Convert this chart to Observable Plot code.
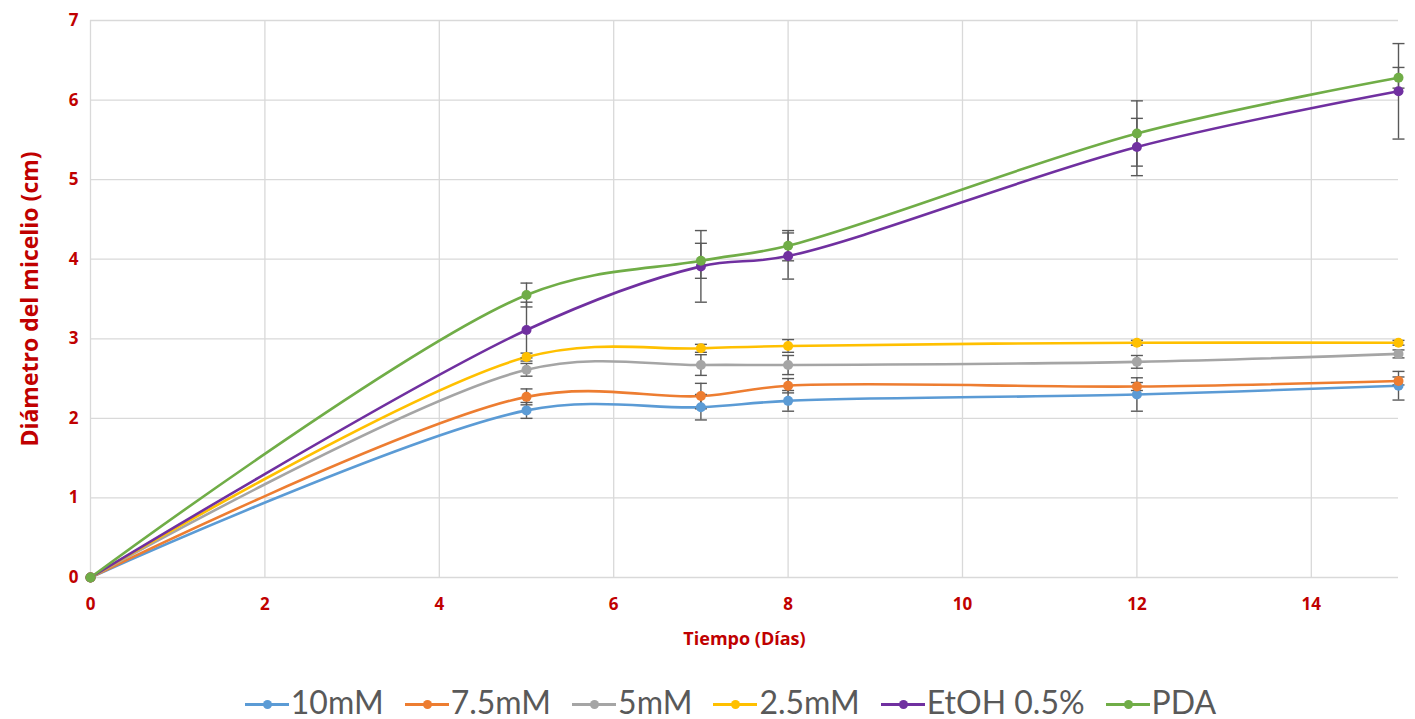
<!DOCTYPE html>
<html>
<head>
<meta charset="utf-8">
<script src="https://cdn.jsdelivr.net/npm/d3@7"></script>
<script src="https://cdn.jsdelivr.net/npm/@observablehq/plot@0.6"></script>
<style>
  html, body { margin: 0; padding: 0; background: #fff; }
  body { position: relative; width: 1415px; height: 719px; overflow: hidden; }
  #chart { width: 1415px; }
  #legend { position: absolute; left: 0; top: 686px; width: 1369px; padding-left: 46px;
    display: flex; justify-content: center; align-items: center; gap: 21px;
    font-family: Lato, "Open Sans", sans-serif; font-size: 32px; line-height: 32px; color: #595959;
    height: 32px; }
  .item { display: flex; align-items: center; gap: 2px; }
  .sw { position: relative; width: 44px; height: 3px; margin-top: 4px; }
  .sw i { position: absolute; left: 18px; top: -3px; width: 9px; height: 9px; border-radius: 50%; }
</style>
</head>
<body>
<div id="chart"></div>
<div id="legend"></div>
<script>
const days = [0, 5, 7, 8, 12, 15];
const seriesNames = ["10mM", "7.5mM", "5mM", "2.5mM", "EtOH 0.5%", "PDA"];
const seriesColors = ["#5B9BD5", "#ED7D31", "#A5A5A5", "#FFC000", "#7030A0", "#70AD47"];

const v10mM   = [0, 2.10, 2.14, 2.22, 2.30, 2.41];
const v7_5mM  = [0, 2.27, 2.28, 2.41, 2.40, 2.47];
const v5mM    = [0, 2.61, 2.67, 2.67, 2.71, 2.81];
const v2_5mM  = [0, 2.77, 2.88, 2.91, 2.95, 2.95];
const vEtOH   = [0, 3.11, 3.91, 4.04, 5.41, 6.11];
const vPDA    = [0, 3.55, 3.98, 4.17, 5.58, 6.28];

const sd10mM  = [0, 0.10, 0.16, 0.13, 0.21, 0.18];
const sd7_5mM = [0, 0.10, 0.16, 0.09, 0.05, 0.05];
const sd5mM   = [0, 0.08, 0.13, 0.12, 0.08, 0.05];
const sd2_5mM = [0, 0.05, 0.05, 0.08, 0.03, 0.03];
const sdEtOH  = [0, 0.35, 0.45, 0.29, 0.36, 0.60];
const sdPDA   = [0, 0.15, 0.22, 0.19, 0.41, 0.13];

const yTicks = [0, 1, 2, 3, 4, 5, 6, 7];
const xTicks = [0, 2, 4, 6, 8, 10, 12, 14];

const values = [v10mM, v7_5mM, v5mM, v2_5mM, vEtOH, vPDA];
const sds = [sd10mM, sd7_5mM, sd5mM, sd2_5mM, sdEtOH, sdPDA];

const rows = [];
seriesNames.forEach((s, i) => {
  days.forEach((d, j) => rows.push({series: s, day: d, v: values[i][j], sd: sds[i][j]}));
});
const errRows = rows.filter(d => d.sd > 0);

const capSymbol = {
  draw(context, size) {
    const r = Math.sqrt(size / Math.PI);
    context.moveTo(-r, 0);
    context.lineTo(r, 0);
  }
};

const red = "#C00000";
const axisFont = "'Open Sans', Lato, sans-serif";

const chart = Plot.plot({
  width: 1415,
  height: 680,
  marginTop: 20,
  marginBottom: 103,
  marginLeft: 90,
  marginRight: 17,
  style: { fontFamily: axisFont, background: "#fff" },
  x: { domain: [0, 15], ticks: xTicks },
  y: { domain: [0, 7], ticks: yTicks },
  color: { domain: seriesNames, range: seriesColors },
  marks: [
    Plot.gridY(yTicks, { stroke: "#d9d9d9", strokeOpacity: 1, strokeWidth: 1.3 }),
    Plot.gridX(xTicks, { stroke: "#d9d9d9", strokeOpacity: 1, strokeWidth: 1.3 }),
    Plot.axisY(yTicks, { tickSize: 0, tickPadding: 12, tickFormat: d => String(d), fontSize: 17, fontWeight: "bold", fill: red, label: null }),
    Plot.axisX(xTicks, { tickSize: 0, tickPadding: 20, tickFormat: d => String(d), fontSize: 17, fontWeight: "bold", fill: red, label: null }),
    Plot.text(["Diámetro del micelio (cm)"], { frameAnchor: "left", textAnchor: "middle", rotate: -90, dx: -60, fontSize: 23, fontWeight: "bold", fill: red }),
    Plot.text(["Tiempo (Días)"], { frameAnchor: "bottom", textAnchor: "middle", dy: 67, fontSize: 18, fontWeight: "bold", fill: red }),
    Plot.line(rows, { x: "day", y: "v", z: "series", stroke: "series", curve: "catmull-rom", strokeWidth: 2.6 }),
    Plot.ruleX(errRows, { x: "day", y1: d => d.v - d.sd, y2: d => d.v + d.sd, stroke: "#595959", strokeWidth: 1.4 }),
    Plot.dot(errRows, { x: "day", y: d => d.v + d.sd, symbol: capSymbol, r: 6, stroke: "#595959", strokeWidth: 1.4, fill: "none" }),
    Plot.dot(errRows, { x: "day", y: d => d.v - d.sd, symbol: capSymbol, r: 6, stroke: "#595959", strokeWidth: 1.4, fill: "none" }),
    Plot.dot(rows, { x: "day", y: "v", fill: "series", r: 5 })
  ]
});
document.getElementById("chart").appendChild(chart);

const legend = document.getElementById("legend");
seriesNames.forEach((s, i) => {
  const item = document.createElement("div");
  item.className = "item";
  const sw = document.createElement("div");
  sw.className = "sw";
  sw.style.background = seriesColors[i];
  const dot = document.createElement("i");
  dot.style.background = seriesColors[i];
  sw.appendChild(dot);
  const t = document.createElement("span");
  t.textContent = s;
  item.appendChild(sw);
  item.appendChild(t);
  legend.appendChild(item);
});
</script>
</body>
</html>
